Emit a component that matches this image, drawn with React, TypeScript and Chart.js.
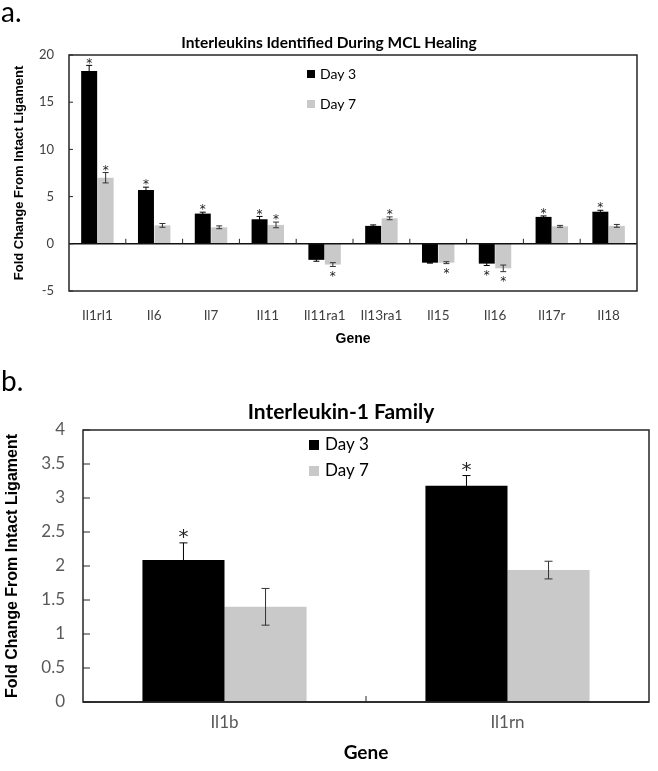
import React, { useEffect, useRef } from "react";
import { Chart, registerables } from "chart.js";
Chart.register(...registerables);

// ---------- Panel a data ----------
const genesA = ["Il1rl1", "Il6", "Il7", "Il11", "Il11ra1", "Il13ra1", "Il15", "Il16", "Il17r", "Il18"];
const day3A = [18.3, 5.7, 3.2, 2.6, -1.7, 1.9, -2.0, -2.1, 2.85, 3.4];
const day3ErrA = [0.6, 0.3, 0.15, 0.3, 0.15, 0.1, 0.05, 0.2, 0.1, 0.15];
const day7A = [7.0, 1.95, 1.75, 2.0, -2.2, 2.7, -2.0, -2.6, 1.85, 1.9];
const day7ErrA = [0.55, 0.2, 0.15, 0.3, 0.2, 0.15, 0.1, 0.35, 0.1, 0.15];
const day3SigA = [true, true, true, true, false, false, false, true, true, true];
const day7SigA = [true, false, false, true, true, true, true, true, false, false];
const yMinA = -5;
const yMaxA = 20;
const yStepA = 5;

// ---------- Panel b data ----------
const genesB = ["Il1b", "Il1rn"];
const day3B = [2.09, 3.18];
const day3ErrB = [0.25, 0.15];
const day7B = [1.4, 1.94];
const day7ErrB = [0.27, 0.13];
const day3SigB = [true, true];
const day7SigB = [false, false];
const yMinB = 0;
const yMaxB = 4;
const yStepB = 0.5;

const seriesNames = ["Day 3", "Day 7"];
const seriesColors = ["#000000", "#c9c9c9"];
const errColors = ["#000000", "#333333"];

const titleA = "Interleukins Identified During MCL Healing";
const titleB = "Interleukin-1 Family";
const yTitle = "Fold Change From Intact Ligament";
const xTitle = "Gene";

function decorPlugin(d: any) {
  return {
    id: "decor",
    afterDatasetsDraw(chart: any) {
      const ctx = chart.ctx;
      const { left, right, top, bottom } = chart.chartArea;
      const ys = chart.scales.y;
      const xs = chart.scales.x;
      ctx.save();
      // zero line
      const y0 = ys.getPixelForValue(0);
      ctx.strokeStyle = "#111";
      ctx.lineWidth = 1.5;
      ctx.beginPath();
      ctx.moveTo(left, y0);
      ctx.lineTo(right, y0);
      ctx.stroke();
      // error bars and significance stars
      d.errs.forEach((errArr: number[], di: number) => {
        const meta = chart.getDatasetMeta(di);
        meta.data.forEach((bar: any, i: number) => {
          const v = chart.data.datasets[di].data[i];
          const e = errArr[i];
          const yHi = ys.getPixelForValue(v + e);
          const yLo = ys.getPixelForValue(v - e);
          ctx.strokeStyle = errColors[di];
          ctx.lineWidth = 1;
          ctx.beginPath();
          ctx.moveTo(bar.x, yHi);
          ctx.lineTo(bar.x, yLo);
          ctx.moveTo(bar.x - d.cap, yHi);
          ctx.lineTo(bar.x + d.cap, yHi);
          ctx.moveTo(bar.x - d.cap, yLo);
          ctx.lineTo(bar.x + d.cap, yLo);
          ctx.stroke();
          if (d.sigs[di][i]) {
            const yc = v >= 0 ? Math.min(yHi, ys.getPixelForValue(v)) - d.starGap : Math.max(yLo, ys.getPixelForValue(v)) + d.starGap;
            ctx.fillStyle = "#222";
            ctx.font = `${d.starSize}px "DejaVu Sans"`;
            ctx.textAlign = "center";
            ctx.textBaseline = "alphabetic";
            ctx.fillText("*", bar.x, yc + d.starSize * 0.6);
          }
        });
      });
      // frame
      ctx.strokeStyle = "#262626";
      ctx.lineWidth = 1.5;
      ctx.strokeRect(left, top, right - left, bottom - top);
      // inside y ticks
      ctx.lineWidth = 1;
      ys.ticks.forEach((t: any) => {
        const py = ys.getPixelForValue(t.value);
        ctx.beginPath();
        ctx.moveTo(left, py);
        ctx.lineTo(left + d.yTickLen, py);
        ctx.stroke();
      });
      // category boundary ticks on the zero line
      const n = chart.data.labels.length;
      for (let i = 1; i < n; i++) {
        const px = (xs.getPixelForValue(i - 1) + xs.getPixelForValue(i)) / 2;
        ctx.beginPath();
        ctx.moveTo(px, y0);
        ctx.lineTo(px, y0 - d.xTickLen);
        ctx.stroke();
      }
      // title
      ctx.fillStyle = "#000";
      ctx.font = d.titleFont;
      ctx.textAlign = "center";
      ctx.textBaseline = "middle";
      ctx.fillText(d.title, d.titleX, d.titleY);
      // legend
      ctx.font = d.legendFont;
      ctx.textAlign = "left";
      chart.data.datasets.forEach((ds: any, i: number) => {
        const cy = d.legendY + i * d.legendGap;
        ctx.fillStyle = ds.backgroundColor;
        ctx.fillRect(d.legendX, cy - d.legendBox / 2, d.legendBox, d.legendBox);
        ctx.fillStyle = "#000";
        ctx.fillText(ds.label, d.legendX + d.legendBox + d.legendTextGap, cy);
      });
      // panel letter
      ctx.font = d.panelFont;
      ctx.textBaseline = "alphabetic";
      ctx.fillText(d.panel, d.panelX, d.panelY);
      ctx.restore();
    },
  };
}

function makeConfig(p: any) {
  return {
    type: "bar",
    data: {
      labels: p.labels,
      datasets: [
        { label: seriesNames[0], data: p.d3, backgroundColor: seriesColors[0], barPercentage: p.barPct, categoryPercentage: p.catPct },
        { label: seriesNames[1], data: p.d7, backgroundColor: seriesColors[1], barPercentage: p.barPct, categoryPercentage: p.catPct },
      ],
    },
    options: {
      responsive: false,
      animation: false,
      layout: { padding: { top: p.padTop, right: p.padRight, left: 0, bottom: 0 } },
      plugins: { legend: { display: false }, title: { display: false }, tooltip: { enabled: false } },
      scales: {
        x: {
          grid: { display: false, drawTicks: false },
          border: { display: false },
          ticks: { autoSkip: false, maxRotation: 0, padding: p.xTickPad, font: { family: "Lato", size: p.xTickSize }, color: p.tickColor },
          title: { display: true, text: xTitle, font: p.xTitleFont, color: "#000", padding: { top: 0, bottom: p.xTitlePadBottom } },
          afterFit: (s: any) => { s.height = p.xHeight; },
        },
        y: {
          min: p.yMin,
          max: p.yMax,
          grid: { display: false, drawTicks: false },
          border: { display: false },
          ticks: { stepSize: p.yStep, padding: p.yTickPad, font: { family: "Lato", size: p.yTickSize }, color: p.tickColor, callback: (v: any) => String(+v) },
          title: { display: true, text: yTitle, font: p.yTitleFont, color: "#000", padding: { top: p.yTitlePadTop, bottom: 0 } },
          afterFit: (s: any) => { s.width = p.yWidth; },
        },
      },
    },
    plugins: [decorPlugin(p.decor)],
  } as any;
}

function Panel({ top, height, config }: any) {
  const ref = useRef<HTMLCanvasElement>(null);
  useEffect(() => {
    const chart = new Chart(ref.current as HTMLCanvasElement, config);
    return () => chart.destroy();
  }, []);
  return (
    <canvas
      ref={ref}
      width={658}
      height={height}
      style={{ position: "absolute", left: 0, top, width: 658, height, display: "block" }}
    />
  );
}

const configA = makeConfig({
  labels: genesA,
  d3: day3A,
  d7: day7A,
  barPct: 0.97,
  catPct: 0.58,
  padTop: 55,
  padRight: 21,
  xTickPad: 17,
  xTickSize: 13.5,
  tickColor: "#404040",
  xTitleFont: { family: "Liberation Sans", weight: "bold", size: 14 },
  xTitlePadBottom: 12,
  xHeight: 69,
  yMin: yMinA,
  yMax: yMaxA,
  yStep: yStepA,
  yTickPad: 15,
  yTickSize: 13,
  yTitleFont: { family: "Liberation Sans", weight: "bold", size: 13 },
  yTitlePadTop: 12,
  yWidth: 69,
  decor: {
    errs: [day3ErrA, day7ErrA],
    sigs: [day3SigA, day7SigA],
    cap: 3,
    starGap: 6,
    starSize: 12,
    yTickLen: 4,
    xTickLen: 5,
    title: titleA,
    titleFont: 'bold 15.5px Lato',
    titleX: 329,
    titleY: 43,
    legendFont: '14px Lato',
    legendX: 307,
    legendY: 74,
    legendGap: 30,
    legendBox: 8,
    legendTextGap: 5,
    panel: "a.",
    panelFont: '28px Lato',
    panelX: 1,
    panelY: 22,
  },
});

const configB = makeConfig({
  labels: genesB,
  d3: day3B,
  d7: day7B,
  barPct: 1,
  catPct: 0.58,
  padTop: 70,
  padRight: 9,
  xTickPad: 10,
  xTickSize: 17,
  tickColor: "#595959",
  xTitleFont: { family: "Lato", weight: "bold", size: 19 },
  xTitlePadBottom: 7,
  xHeight: 69,
  yMin: yMinB,
  yMax: yMaxB,
  yStep: yStepB,
  yTickPad: 18,
  yTickSize: 17,
  yTitleFont: { family: "Liberation Sans", weight: "bold", size: 16 },
  yTitlePadTop: 3,
  yWidth: 83,
  decor: {
    errs: [day3ErrB, day7ErrB],
    sigs: [day3SigB, day7SigB],
    cap: 4,
    starGap: 12,
    starSize: 20,
    yTickLen: 7,
    xTickLen: 6,
    title: titleB,
    titleFont: 'bold 21px Lato',
    titleX: 341,
    titleY: 52,
    legendFont: '17px Lato',
    legendX: 309,
    legendY: 85,
    legendGap: 26,
    legendBox: 10,
    legendTextGap: 6,
    panel: "b.",
    panelFont: '28px Lato',
    panelX: 1,
    panelY: 31,
  },
});

export default function App() {
  return (
    <div style={{ position: "absolute", left: 0, top: 0, width: 658, height: 771, background: "#fff" }}>
      <Panel top={0} height={360} config={configA} />
      <Panel top={360} height={411} config={configB} />
    </div>
  );
}
